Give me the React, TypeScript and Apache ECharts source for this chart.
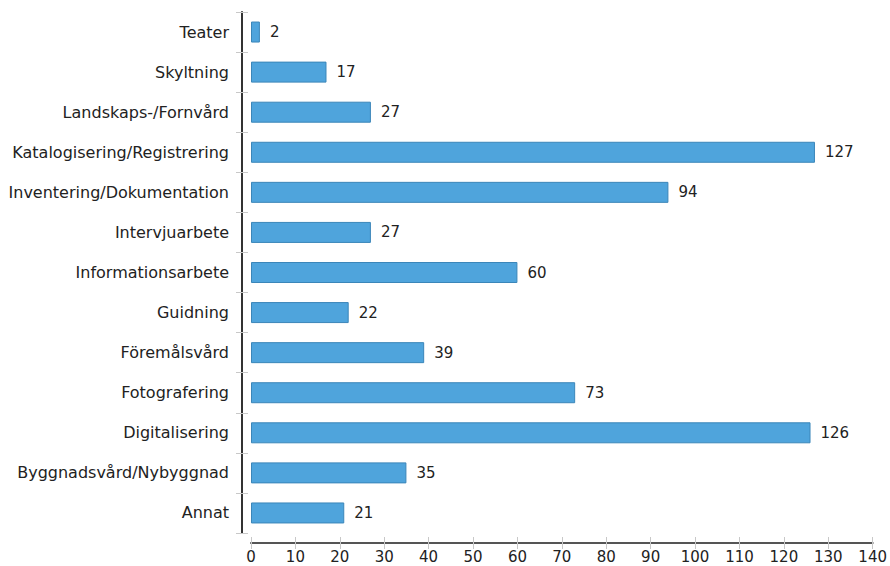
import React, { useEffect, useRef } from "react";
import * as echarts from "echarts";

const categories = [
  "Teater",
  "Skyltning",
  "Landskaps-/Fornvård",
  "Katalogisering/Registrering",
  "Inventering/Dokumentation",
  "Intervjuarbete",
  "Informationsarbete",
  "Guidning",
  "Föremålsvård",
  "Fotografering",
  "Digitalisering",
  "Byggnadsvård/Nybyggnad",
  "Annat",
];
const values = [2, 17, 27, 127, 94, 27, 60, 22, 39, 73, 126, 35, 21];
const xMin = 0;
const xMax = 140;
const xInterval = 10;

const FONT = "DejaVu Sans";

export default function App() {
  const ref = useRef<HTMLDivElement>(null);
  useEffect(() => {
    const chart = echarts.init(ref.current!, null, { renderer: "svg" });
    chart.setOption({
      animation: false,
      grid: { left: 251, right: 15, top: 12, bottom: 33, containLabel: false },
      xAxis: [
        {
          type: "value",
          min: xMin,
          max: xMax,
          interval: xInterval,
          offset: 10,
          axisLine: { show: true, onZero: false, lineStyle: { color: "#555", width: 2 } },
          axisTick: { show: true, length: 6, lineStyle: { color: "#c8c8c8", width: 1 } },
          axisLabel: { color: "#222", fontFamily: FONT, fontSize: 15, margin: 6 },
          splitLine: { show: false },
        },
        {
          type: "value",
          position: "bottom",
          min: xMin,
          max: xMax,
          interval: xInterval,
          offset: 10,
          axisLine: { show: false, onZero: false },
          axisTick: { show: true, inside: true, length: 6, lineStyle: { color: "#c8c8c8", width: 1 } },
          axisLabel: { show: false },
          splitLine: { show: false },
        },
      ],
      yAxis: [
        {
          type: "category",
          data: categories,
          inverse: true,
          offset: 9,
          axisLine: { show: true, onZero: false, lineStyle: { color: "#333", width: 2 } },
          axisTick: { show: true, length: 6, lineStyle: { color: "#c8c8c8", width: 1 } },
          axisLabel: { color: "#222", fontFamily: FONT, fontSize: 16, margin: 13 },
        },
        {
          type: "category",
          data: categories,
          inverse: true,
          position: "left",
          offset: 9,
          axisLine: { show: false, onZero: false },
          axisTick: { show: true, inside: true, length: 6, lineStyle: { color: "#c8c8c8", width: 1 } },
          axisLabel: { show: false },
        },
      ],
      series: [
        {
          type: "bar",
          xAxisIndex: 0,
          yAxisIndex: 0,
          data: values,
          barWidth: 21,
          itemStyle: { color: "#4fa4dc", borderColor: "#3b86b9", borderWidth: 1 },
          label: {
            show: true,
            position: "right",
            distance: 10,
            color: "#222",
            fontFamily: FONT,
            fontSize: 15,
          },
        },
      ],
    });
    return () => chart.dispose();
  }, []);
  return (
    <div
      ref={ref}
      style={{ position: "absolute", left: 0, top: 0, width: 890, height: 566 }}
    />
  );
}
